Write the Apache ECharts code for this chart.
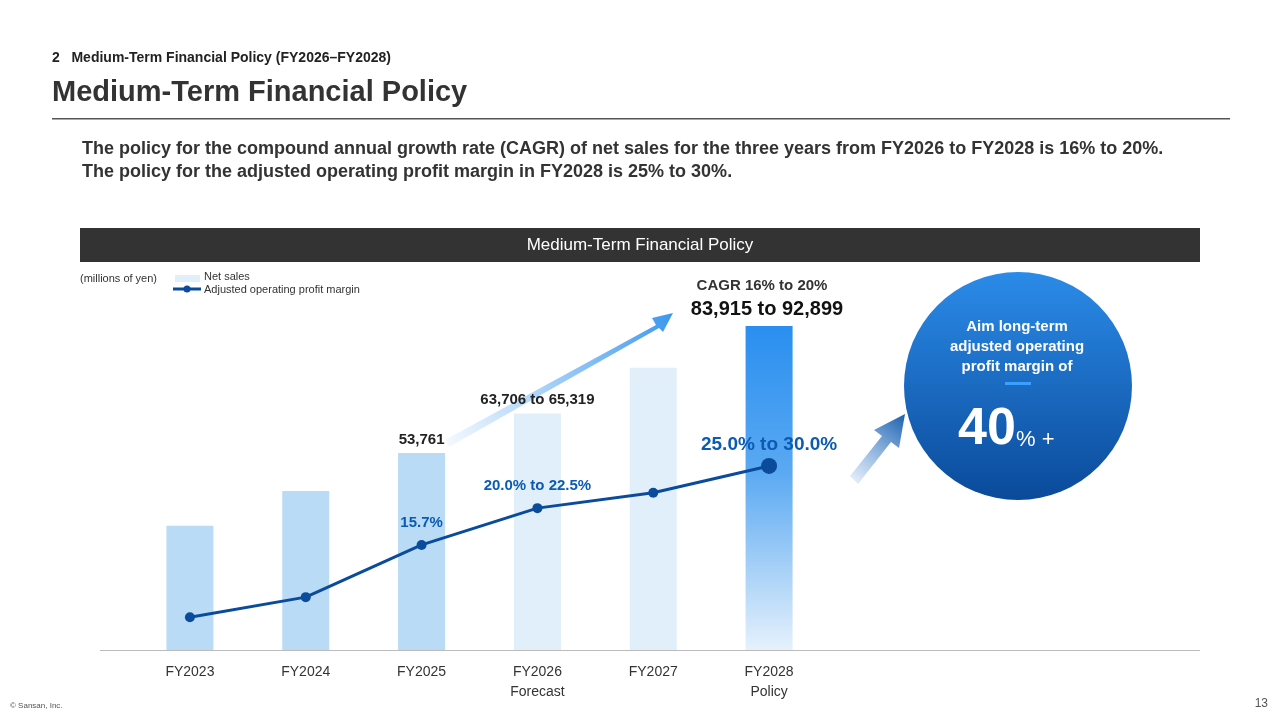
<!DOCTYPE html><html><head><meta charset="utf-8">
<script src="https://cdn.jsdelivr.net/npm/echarts@6/dist/echarts.min.js"></script>
<style>body{margin:0}#c{width:1280px;height:720px}</style></head><body><div id="c"></div>
<script>
const categories=['FY2023','FY2024','FY2025','FY2026\nForecast','FY2027','FY2028\nPolicy'];
const netSales=[33900,43400,53761,64500,77000,88400];
const margin=[4.9,7.9,15.7,21.2,23.5,27.5];
const barLabels=['','','53,761','63,706 to 65,319','',''];
const lineLabels=['','','15.7%','20.0% to 22.5%','','25.0% to 30.0%'];
const F="'Liberation Sans', Arial, sans-serif";
const chart=echarts.init(document.getElementById('c'));
const light='#b9dbf6', lighter='#e1effb';
chart.setOption({
 textStyle:{fontFamily:F},
 grid:{left:132,width:695,top:300,height:350},
 xAxis:{type:'category',data:categories,axisLine:{show:false},axisTick:{show:false},
  axisLabel:{color:'#333',fontSize:14,margin:12,lineHeight:20,fontFamily:F}},
 yAxis:[{type:'value',min:0,max:95500,show:false,splitLine:{show:false}},
        {type:'value',min:0,max:52.3,show:false,splitLine:{show:false}}],
 series:[
  {type:'bar',barWidth:47,data:netSales.map((v,i)=>({value:v,itemStyle:{color:i<3?light:(i<5?lighter:new echarts.graphic.LinearGradient(0,0,0,1,[{offset:0,color:'#2a8ff0'},{offset:0.45,color:'#5aa9f2'},{offset:1,color:'#e6f1fc'}]))}})),
   label:{show:true,position:'top',distance:6,fontSize:15,fontWeight:'bold',color:'#222',fontFamily:F,formatter:p=>barLabels[p.dataIndex]}},
  {type:'line',yAxisIndex:1,data:margin.map((v,i)=>i===5?{value:v,label:{fontSize:19,distance:4}}:v),symbol:'circle',symbolSize:(v,p)=>p.dataIndex===5?16:10,
   lineStyle:{color:'#0b4b9b',width:3},itemStyle:{color:'#0b4b9b'},
   label:{show:true,position:'top',distance:10,fontWeight:'bold',color:'#0b5bb5',fontFamily:F,formatter:p=>lineLabels[p.dataIndex],fontSize:15}}
 ],
 graphic:[
  {type:'text',left:52,top:51,style:{text:'2   Medium-Term Financial Policy (FY2026–FY2028)',font:'bold 14px '+F,fill:'#222'}},
  {type:'text',left:52,top:78,style:{text:'Medium-Term Financial Policy',font:'bold 29px '+F,fill:'#333'}},
  {type:'rect',shape:{x:52,y:118,width:1178,height:1.5},style:{fill:'#555'}},
  {type:'text',left:82,top:138,style:{text:'The policy for the compound annual growth rate (CAGR) of net sales for the three years from FY2026 to FY2028 is 16% to 20%.\nThe policy for the adjusted operating profit margin in FY2028 is 25% to 30%.',font:'bold 18px '+F,fill:'#333',lineHeight:23}},
  {type:'rect',shape:{x:80,y:228,width:1120,height:34},style:{fill:'#333333'}},
  {type:'text',x:640,y:245,style:{text:'Medium-Term Financial Policy',font:'17px '+F,fill:'#fff',textAlign:'center',textVerticalAlign:'middle'}},
  {type:'text',left:80,top:273,style:{text:'(millions of yen)',font:'11px '+F,fill:'#333'}},
  {type:'rect',shape:{x:175,y:275,width:25,height:7},style:{fill:lighter}},
  {type:'text',left:204,top:271,style:{text:'Net sales',font:'11px '+F,fill:'#333'}},
  {type:'line',shape:{x1:173,y1:289,x2:201,y2:289},style:{stroke:'#0b4b9b',lineWidth:3}},
  {type:'circle',shape:{cx:187,cy:289,r:3.5},style:{fill:'#0b4b9b'}},
  {type:'text',left:204,top:284,style:{text:'Adjusted operating profit margin',font:'11px '+F,fill:'#333'}},
  {type:'rect',shape:{x:100,y:650,width:1100,height:1},style:{fill:'#bbb'}},
  {type:'text',x:762,y:286,style:{text:'CAGR 16% to 20%',font:'bold 15px '+F,fill:'#333',textAlign:'center',textVerticalAlign:'middle'}},
  {type:'text',x:767,y:309,style:{text:'83,915 to 92,899',font:'bold 20px '+F,fill:'#111',textAlign:'center',textVerticalAlign:'middle'}},
  {type:'polygon',shape:{points:[[445,440],[656,325],[652,318],[673,313],[663,332],[659,328],[449,447]]},
   style:{fill:new echarts.graphic.LinearGradient(0,1,1,0,[{offset:0,color:'rgba(77,160,240,0.05)'},{offset:1,color:'#3a97ef'}])}},
  {type:'polygon',shape:{points:[[850,476],[882,436],[874,430],[905,414],[899,448],[891,442],[858,484]]},
   style:{fill:new echarts.graphic.LinearGradient(0,1,1,0,[{offset:0,color:'rgba(60,130,210,0.1)'},{offset:1,color:'#1a5fae'}])}},
  {type:'circle',shape:{cx:1018,cy:386,r:114},style:{fill:new echarts.graphic.LinearGradient(0,0,0,1,[{offset:0,color:'#2b8be8'},{offset:1,color:'#0a4a9a'}])}},
  {type:'text',x:1017,y:347,style:{text:'Aim long-term\nadjusted operating\nprofit margin of',font:'bold 15px '+F,fill:'#fff',textAlign:'center',textVerticalAlign:'middle',lineHeight:20}},
  {type:'rect',shape:{x:1005,y:382,width:26,height:3},style:{fill:'#3aa0ff'}},
  {type:'text',x:958,y:430,style:{text:'40',font:'bold 52px '+F,fill:'#fff',textVerticalAlign:'middle'}},
  {type:'text',x:1016,y:440,style:{text:'% +',font:'22px '+F,fill:'#fff',textVerticalAlign:'middle'}},
  {type:'text',left:10,top:702,style:{text:'© Sansan, Inc.',font:'8px '+F,fill:'#555'}},
  {type:'text',right:12,top:698,style:{text:'13',font:'12px '+F,fill:'#555'}}
 ]
});
</script></body></html>
